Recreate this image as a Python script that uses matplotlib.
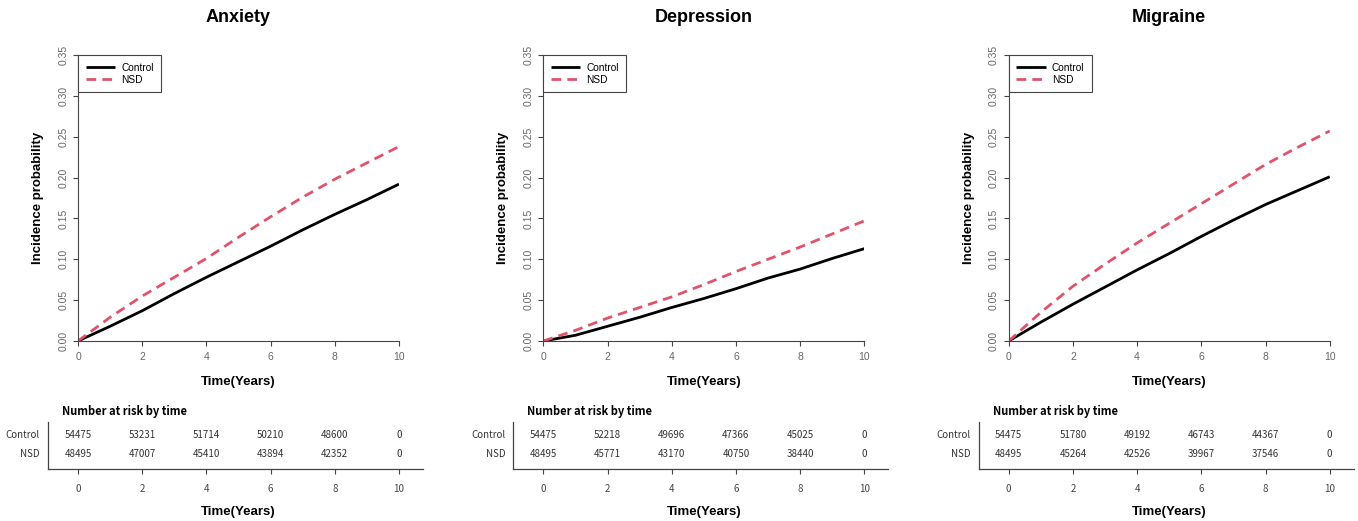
import matplotlib
matplotlib.use("Agg")
import matplotlib.pyplot as plt

plt.rcParams["font.family"] = ["Liberation Sans", "DejaVu Sans"]

# -----------------------------
# Data
# -----------------------------
diseases = ["Anxiety", "Depression", "Migraine"]
groups = ["Control", "NSD"]

years = [0, 1, 2, 3, 4, 5, 6, 7, 8, 9, 10]

anxiety_control = [0, 0.018, 0.037, 0.058, 0.078, 0.097, 0.116, 0.136, 0.155, 0.173, 0.192]
anxiety_nsd = [0, 0.029, 0.055, 0.078, 0.101, 0.127, 0.152, 0.176, 0.198, 0.218, 0.238]

depression_control = [0, 0.007, 0.018, 0.029, 0.041, 0.052, 0.064, 0.077, 0.088, 0.101, 0.113]
depression_nsd = [0, 0.013, 0.028, 0.041, 0.054, 0.069, 0.085, 0.100, 0.115, 0.131, 0.147]

migraine_control = [0, 0.023, 0.045, 0.066, 0.087, 0.107, 0.128, 0.148, 0.167, 0.184, 0.201]
migraine_nsd = [0, 0.035, 0.067, 0.094, 0.120, 0.144, 0.168, 0.192, 0.216, 0.237, 0.257]

risk_times = [0, 2, 4, 6, 8, 10]
anxiety_risk_control = [54475, 53231, 51714, 50210, 48600, 0]
anxiety_risk_nsd = [48495, 47007, 45410, 43894, 42352, 0]
depression_risk_control = [54475, 52218, 49696, 47366, 45025, 0]
depression_risk_nsd = [48495, 45771, 43170, 40750, 38440, 0]
migraine_risk_control = [54475, 51780, 49192, 46743, 44367, 0]
migraine_risk_nsd = [48495, 45264, 42526, 39967, 37546, 0]

curves = [
    (anxiety_control, anxiety_nsd),
    (depression_control, depression_nsd),
    (migraine_control, migraine_nsd),
]
risks = [
    (anxiety_risk_control, anxiety_risk_nsd),
    (depression_risk_control, depression_risk_nsd),
    (migraine_risk_control, migraine_risk_nsd),
]

y_ticks = [0, 0.05, 0.10, 0.15, 0.20, 0.25, 0.30, 0.35]
x_ticks = [0, 2, 4, 6, 8, 10]

# -----------------------------
# Layout (pixels)
# -----------------------------
W, H = 1358, 521
fig = plt.figure(figsize=(W / 100, H / 100), dpi=100)

axis_col = "#444444"
tick_col = "#666666"
red = "#DF536B"
table_font = ["Noto Sans CJK KR", "DejaVu Sans"]

left_px = [78, 543.3, 1008.7]
plot_w = 321
top_px, bot_px = 55, 341

for i, name in enumerate(diseases):
    x0 = left_px[i]

    # ---- main incidence plot ----
    ax = fig.add_axes([x0 / W, (H - bot_px) / H, plot_w / W, (bot_px - top_px) / H])
    ctrl, nsd = curves[i]
    ax.plot(years, ctrl, color="black", lw=2.0, label=groups[0], solid_capstyle="butt")
    ax.plot(years, nsd, color=red, lw=2.0, dashes=(3.5, 2.2), label=groups[1])

    ax.set_xlim(0, 10)
    ax.set_ylim(0, 0.35)
    ax.set_xticks(x_ticks)
    ax.set_yticks(y_ticks)
    ax.set_yticklabels(["%.2f" % v for v in y_ticks])
    for s in ["top", "right"]:
        ax.spines[s].set_visible(False)
    for s in ["left", "bottom"]:
        ax.spines[s].set_color(axis_col)
        ax.spines[s].set_linewidth(0.8)
    ax.tick_params(axis="both", colors=axis_col, labelcolor=tick_col,
                   labelsize=7.5, length=3.6, width=0.8)
    ax.tick_params(axis="x", pad=4)
    ax.tick_params(axis="y", pad=3.5, labelrotation=90)
    for lab in ax.get_yticklabels():
        lab.set_va("center")

    ax.text(0.5, (bot_px - 18) / (bot_px - top_px), name, transform=ax.transAxes,
            ha="center", va="center", fontsize=13, fontweight="bold")
    ax.text(-40 / plot_w, 0.5, "Incidence probability", transform=ax.transAxes,
            rotation=90, ha="center", va="center", fontsize=9.5, fontweight="bold")
    ax.text(0.5, -(382 - bot_px) / (bot_px - top_px), "Time(Years)", transform=ax.transAxes,
            ha="center", va="center", fontsize=9.5, fontweight="bold")

    leg = ax.legend(loc="upper left", bbox_to_anchor=(0, 1), borderaxespad=0,
                    fancybox=False, framealpha=1, edgecolor=axis_col, fontsize=7.3,
                    handlelength=2.9, handletextpad=0.6, borderpad=0.75,
                    labelspacing=0.2)
    leg.get_frame().set_linewidth(0.8)

    # ---- number at risk table ----
    px_per_year = plot_w / 10
    t_left, t_right = x0 - 30, x0 + 345
    t_top, t_bot = 422, 469
    tab = fig.add_axes([t_left / W, (H - t_bot) / H, (t_right - t_left) / W, (t_bot - t_top) / H])
    tab.set_xlim(-30 / px_per_year, 345 / px_per_year)
    tab.set_ylim(0, 1)
    for s in ["top", "right"]:
        tab.spines[s].set_visible(False)
    for s in ["left", "bottom"]:
        tab.spines[s].set_color(axis_col)
        tab.spines[s].set_linewidth(0.9)
    tab.set_yticks([])
    tab.set_xticks(x_ticks)
    tab.tick_params(axis="x", colors=axis_col, labelcolor="#444444", labelsize=7,
                    length=3.6, width=0.8, pad=7)
    for lab in tab.get_xticklabels():
        lab.set_family(table_font)

    rc, rn = risks[i]
    row_y = [(t_bot - 435) / (t_bot - t_top), (t_bot - 454) / (t_bot - t_top)]
    for t, c, n in zip(risk_times, rc, rn):
        tab.text(t, row_y[0], str(c), ha="center", va="center", fontsize=7,
                 color="#333333", family=table_font)
        tab.text(t, row_y[1], str(n), ha="center", va="center", fontsize=7,
                 color="#333333", family=table_font)
    for g, yy in zip(groups, row_y):
        tab.text(-38 / px_per_year, yy, g, ha="right", va="center", fontsize=7,
                 color="#333333", family=table_font, clip_on=False)

    tab.text(-16 / px_per_year, (t_bot - 411) / (t_bot - t_top), "Number at risk by time",
             ha="left", va="center", fontsize=8, fontweight="bold",
             family=table_font, clip_on=False)
    tab.text(5, -(512 - t_bot) / (t_bot - t_top), "Time(Years)", ha="center", va="center",
             fontsize=9.5, fontweight="bold", clip_on=False)

fig.savefig("out.png", dpi=100)
